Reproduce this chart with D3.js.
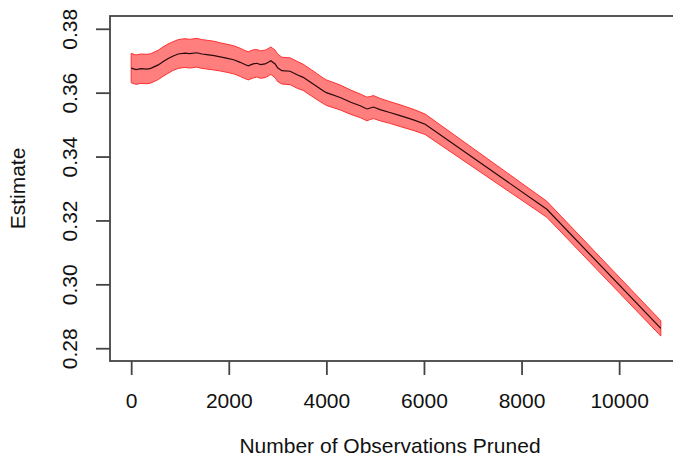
<!DOCTYPE html>
<html><head><meta charset="utf-8">
<script src="https://cdn.jsdelivr.net/npm/d3@7"></script>
<style>body{margin:0;background:#fff}svg{display:block}text{font-family:"Liberation Sans",Arial,sans-serif;fill:#111}</style>
</head><body><svg id="c" width="673" height="464"></svg>
<script>
const pruned = [0,100,200,322,400,555,650,750,850,963,1100,1200,1346,1450,1550,1700,1824,1950,2100,2234,2330,2400,2500,2575,2650,2746,2820,2862,2950,3000,3088,3258,3400,3525,3700,3934,4000,4283,4500,4693,4830,4900,4966,5100,5300,5512,5800,6025,8518,10854];
const estimate = [0.3677,0.3672,0.3675,0.3674,0.3676,0.3687,0.3697,0.3706,0.3714,0.3721,0.3724,0.3722,0.3725,0.3721,0.3719,0.3716,0.3712,0.3708,0.3703,0.3695,0.3688,0.3684,0.3690,0.3692,0.3688,0.3690,0.3696,0.3700,0.3690,0.3678,0.3669,0.3667,0.3656,0.3648,0.3630,0.3606,0.3600,0.3585,0.3570,0.3559,0.3549,0.3552,0.3555,0.3547,0.3538,0.3528,0.3514,0.3501,0.3235,0.2862];
const halfWidth = [0.0046,0.0046,0.0046,0.0046,0.0046,0.0046,0.0046,0.0046,0.0045,0.0045,0.0045,0.0045,0.0045,0.0045,0.0045,0.0045,0.0044,0.0044,0.0044,0.0044,0.0044,0.0044,0.0044,0.0043,0.0043,0.0043,0.0043,0.0043,0.0043,0.0043,0.0042,0.0042,0.0042,0.0041,0.0041,0.0040,0.0040,0.0039,0.0038,0.0037,0.0037,0.0036,0.0036,0.0035,0.0034,0.0034,0.0033,0.0032,0.0025,0.0024];
const xTicks = [0,2000,4000,6000,8000,10000];
const yTicks = [0.28,0.30,0.32,0.34,0.36,0.38];
const xTitle = "Number of Observations Pruned";
const yTitle = "Estimate";

const svg = d3.select("#c");
const L=110, T=16, R=682, B=361;
const xMin=0, xMax=d3.max(pruned), xPad=(xMax-xMin)*0.04;
const x = d3.scaleLinear().domain([xMin-xPad, xMax+xPad]).range([L,R]);
const y = d3.scaleLinear().domain([0.276,0.384]).range([B,T]);

const data = pruned.map((p,i)=>({x:p, e:estimate[i], lo:estimate[i]-halfWidth[i], hi:estimate[i]+halfWidth[i]}));

const g = svg.append("g");
g.append("path").datum(data)
  .attr("d", d3.area().x(d=>x(d.x)).y0(d=>y(d.lo)).y1(d=>y(d.hi)))
  .attr("fill","rgba(255,0,0,0.5)").attr("stroke","#ff3030").attr("stroke-width",1);
g.append("path").datum(data)
  .attr("d", d3.line().x(d=>x(d.x)).y(d=>y(d.e)))
  .attr("fill","none").attr("stroke","#2a0a0a").attr("stroke-width",1.2);

// box
svg.append("rect").attr("x",L).attr("y",T).attr("width",R-L).attr("height",B-T)
  .attr("fill","none").attr("stroke","#444").attr("stroke-width",1.8);

// x axis
const xa = svg.append("g").attr("transform",`translate(0,${B})`)
  .call(d3.axisBottom(x).tickValues(xTicks).tickSize(14).tickPadding(18).tickFormat(d3.format("d")));
xa.select(".domain").remove();
xa.selectAll("line").attr("stroke","#444").attr("stroke-width",1.8);
xa.selectAll("text").attr("font-size",21).attr("fill","#111").style("font-family","Liberation Sans, Arial, sans-serif");

// y axis
const ya = svg.append("g").attr("transform",`translate(${L},0)`)
  .call(d3.axisLeft(y).tickValues(yTicks).tickSize(14).tickFormat(d3.format(".2f")));
ya.select(".domain").remove();
ya.selectAll("line").attr("stroke","#444").attr("stroke-width",1.8);
ya.selectAll("text").remove();
ya.selectAll(".tick").append("text")
  .attr("transform","translate(-40,0) rotate(-90)")
  .attr("text-anchor","middle").attr("dy","0.35em")
  .attr("font-size",21).attr("fill","#111")
  .style("font-family","Liberation Sans, Arial, sans-serif")
  .text(d=>d3.format(".2f")(d));

svg.append("text").attr("x",390).attr("y",453).attr("text-anchor","middle")
  .attr("font-size",21).text(xTitle);
svg.append("text").attr("transform",`translate(25,${(T+B)/2}) rotate(-90)`)
  .attr("text-anchor","middle").attr("font-size",21).text(yTitle);
</script></body></html>
